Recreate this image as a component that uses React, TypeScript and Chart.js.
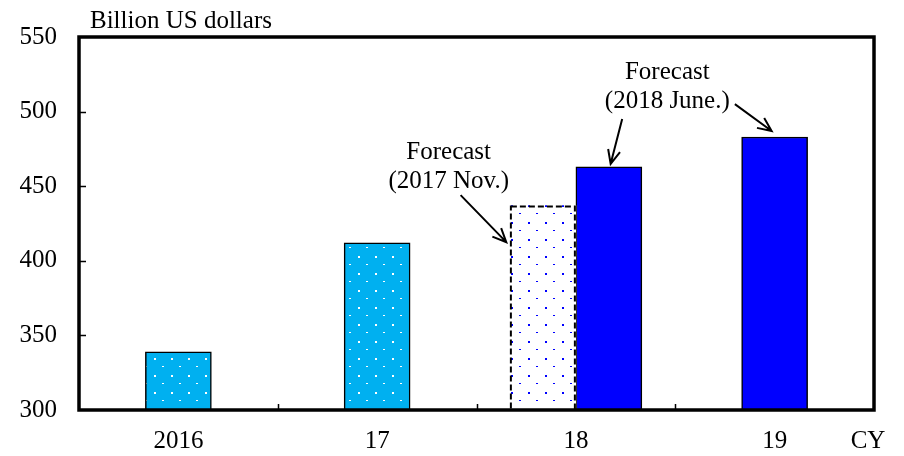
import React, { useEffect, useRef } from "react";
import { Chart, registerables } from "chart.js";

Chart.register(...registerables);

// ---- data ----
const categories = ["2016", "17", "18", "19"];
const actual = [339, 412, null, null];
const forecastNov2017 = [null, null, 437, null];
const forecastJun2018 = [null, null, 463, 483];
const yMin = 300;
const yMax = 550;
const yStep = 50;
const unitLabel = "Billion US dollars";
const axisSuffix = "CY";

// annotation anchors in data coordinates (category index, value)
const noteNov = { lines: ["Forecast", "(2017 Nov.)"], x: 1.36, y: 468 };
const noteJun = { lines: ["Forecast", "(2018 June.)"], x: 2.46, y: 522 };
const arrowsNov = [{ from: [1.42, 444], to: [1.65, 412.5] }];
const arrowsJun = [
  { from: [2.233, 495], to: [2.175, 465] },
  { from: [2.8, 505], to: [2.985, 487] },
];

const FONT = "'Liberation Serif', 'Times New Roman', serif";

function makePattern(ctx: CanvasRenderingContext2D, bg: string, dot: string) {
  const c = document.createElement("canvas");
  c.width = 17;
  c.height = 17;
  const g = c.getContext("2d")!;
  g.fillStyle = bg;
  g.fillRect(0, 0, 17, 17);
  g.fillStyle = dot;
  g.fillRect(1, 1, 2, 2);
  g.fillRect(9, 9, 2, 1);
  return ctx.createPattern(c, "repeat");
}

function drawArrow(ctx: CanvasRenderingContext2D, x1: number, y1: number, x2: number, y2: number) {
  const ang = Math.atan2(y2 - y1, x2 - x1);
  const len = 15;
  const spread = 0.42;
  ctx.beginPath();
  ctx.moveTo(x1, y1);
  ctx.lineTo(x2, y2);
  ctx.moveTo(x2 - len * Math.cos(ang - spread), y2 - len * Math.sin(ang - spread));
  ctx.lineTo(x2, y2);
  ctx.lineTo(x2 - len * Math.cos(ang + spread), y2 - len * Math.sin(ang + spread));
  ctx.stroke();
}

const decor = {
  id: "decor",
  afterDatasetsDraw(chart: any) {
    const ctx: CanvasRenderingContext2D = chart.ctx;
    const area = chart.chartArea;
    const meta = chart.getDatasetMeta(1);
    meta.data.forEach((el: any, i: number) => {
      if (forecastNov2017[i] == null) return;
      const { x, y, base, width } = el.getProps(["x", "y", "base", "width"], true);
      const b = Math.min(base, area.bottom);
      ctx.save();
      ctx.beginPath();
      ctx.rect(area.left, area.top, area.right - area.left, area.bottom - area.top);
      ctx.clip();
      ctx.setLineDash([6, 3]);
      ctx.lineWidth = 2;
      ctx.strokeStyle = "#000";
      ctx.strokeRect(x - width / 2 + 1, y + 1, width - 2, b - y - 1);
      ctx.restore();
    });
  },
  afterDraw(chart: any) {
    const ctx: CanvasRenderingContext2D = chart.ctx;
    const { left, right, top, bottom } = chart.chartArea;
    const xs = chart.scales.x;
    const ys = chart.scales.y;
    ctx.save();
    // inward ticks
    ctx.strokeStyle = "#000";
    ctx.lineWidth = 1.5;
    ctx.beginPath();
    for (let v = yMin + yStep; v < yMax; v += yStep) {
      const py = Math.round(ys.getPixelForValue(v)) + 0.5;
      ctx.moveTo(left, py);
      ctx.lineTo(left + 7, py);
    }
    for (let i = 0; i < categories.length - 1; i++) {
      const px = Math.round((xs.getPixelForValue(i) + xs.getPixelForValue(i + 1)) / 2) + 0.5;
      ctx.moveTo(px, bottom);
      ctx.lineTo(px, bottom - 6);
    }
    ctx.stroke();
    // frame
    ctx.lineWidth = 3.5;
    ctx.strokeRect(left, top, right - left, bottom - top);
    // texts
    ctx.fillStyle = "#000";
    ctx.font = `25px ${FONT}`;
    ctx.textBaseline = "alphabetic";
    ctx.textAlign = "left";
    ctx.fillText(unitLabel, left + 11, top - 9);
    ctx.textAlign = "center";
    ctx.fillText(axisSuffix, right - 6, bottom + 38);
    for (const note of [noteNov, noteJun]) {
      const px = xs.getPixelForValue(note.x);
      const py = ys.getPixelForValue(note.y);
      note.lines.forEach((t, k) => ctx.fillText(t, px, py + k * 29));
    }
    ctx.lineWidth = 2;
    for (const a of [...arrowsNov, ...arrowsJun]) {
      drawArrow(
        ctx,
        xs.getPixelForValue(a.from[0]),
        ys.getPixelForValue(a.from[1]),
        xs.getPixelForValue(a.to[0]),
        ys.getPixelForValue(a.to[1])
      );
    }
    ctx.restore();
  },
};

export default function App() {
  const ref = useRef<HTMLCanvasElement>(null);
  useEffect(() => {
    const canvas = ref.current!;
    const ctx = canvas.getContext("2d")!;
    const cyanDots = makePattern(ctx, "#00B0F0", "#ffffff");
    const whiteDots = makePattern(ctx, "#ffffff", "#0000FF");
    const chart = new Chart(canvas, {
      type: "bar",
      data: {
        labels: categories,
        datasets: [
          {
            label: "Actual",
            data: actual,
            backgroundColor: cyanDots as any,
            borderColor: "#000",
            borderWidth: 1.5,
          },
          {
            label: "Forecast (2017 Nov.)",
            data: forecastNov2017,
            backgroundColor: whiteDots as any,
            borderWidth: 0,
          },
          {
            label: "Forecast (2018 June.)",
            data: forecastJun2018,
            backgroundColor: "#0000FF",
            borderColor: "#000",
            borderWidth: 1.5,
          },
        ],
      },
      options: {
        responsive: false,
        animation: false,
        devicePixelRatio: 1,
        datasets: { bar: { skipNull: true, barThickness: 66 } } as any,
        layout: { padding: { top: 36, right: 30, left: 0, bottom: 0 } },
        plugins: { legend: { display: false }, tooltip: { enabled: false }, title: { display: false } },
        scales: {
          x: {
            offset: true,
            grid: { display: false, drawTicks: false, tickLength: 0 },
            border: { display: false },
            ticks: { color: "#000", font: { family: FONT, size: 25 }, padding: 16, maxRotation: 0 },
            afterFit: (s: any) => {
              s.height = 46;
            },
          },
          y: {
            min: yMin,
            max: yMax,
            grid: { display: false, drawTicks: false, tickLength: 0 },
            border: { display: false },
            ticks: { stepSize: yStep, color: "#000", font: { family: FONT, size: 25 }, padding: 22 },
            afterFit: (s: any) => {
              s.width = 79;
            },
          },
        },
      },
      plugins: [decor],
    });
    return () => chart.destroy();
  }, []);
  return (
    <canvas
      ref={ref}
      width={904}
      height={456}
      style={{ position: "fixed", left: 0, top: 0, width: 904, height: 456 }}
    />
  );
}
